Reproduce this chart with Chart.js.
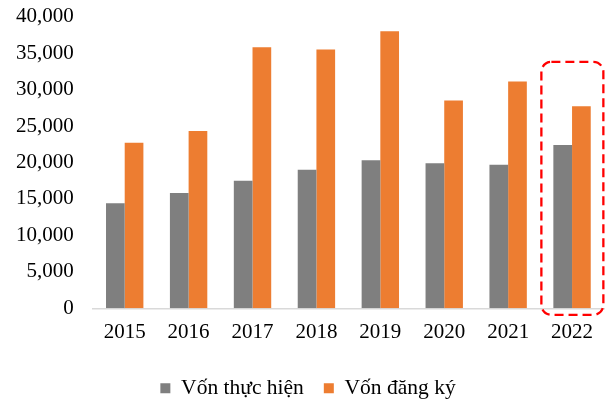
<!DOCTYPE html>
<html>
<head>
<meta charset="utf-8">
<script src="https://cdn.jsdelivr.net/npm/chart.js@4"></script>
<style>
  html, body { margin: 0; padding: 0; background: #fff; }
  #wrap { width: 606px; height: 401px; }
</style>
</head>
<body>
<div id="wrap"><canvas id="fdiChart"></canvas></div>
<script>
const years = ["2015", "2016", "2017", "2018", "2019", "2020", "2021", "2022"];
const vonThucHien = [14400, 15800, 17500, 19000, 20300, 19900, 19700, 22400];
const vonDangKy = [22700, 24300, 35800, 35500, 38000, 28500, 31100, 27700];
const yTicks = [0, 5000, 10000, 15000, 20000, 25000, 30000, 35000, 40000];

// dashed box round the last year
const highlightBox = {
  id: 'highlightBox',
  afterDatasetsDraw(chart) {
    const { ctx, scales: { x, y } } = chart;
    const catW = x.width / years.length;
    const cx = x.getPixelForValue(years.length - 1);
    const left = cx - catW * 0.48;
    const right = cx + catW * 0.49;
    const top = y.getPixelForValue(33800);
    const bottom = y.getPixelForValue(0) + 6.5;
    ctx.save();
    ctx.strokeStyle = '#ff0000';
    ctx.lineWidth = 2.3;
    ctx.setLineDash([9, 5]);
    ctx.beginPath();
    ctx.roundRect(left, top, right - left, bottom - top, 10);
    ctx.stroke();
    ctx.restore();
  }
};

Chart.defaults.font.family = '"Liberation Serif", "Times New Roman", serif';
Chart.defaults.font.size = 21;
Chart.defaults.color = '#000';

new Chart(document.getElementById("fdiChart"), {
  type: 'bar',
  data: {
    labels: years,
    datasets: [{
      label: "Vốn thực hiện",
      data: vonThucHien,
      backgroundColor: "#7f7f7f"
    }, {
      label: "Vốn đăng ký",
      data: vonDangKy,
      backgroundColor: "#ed7d31"
    }]
  },
  options: {
    responsive: true,
    maintainAspectRatio: false,
    animation: false,
    layout: { padding: { top: 0, right: 2, left: 12, bottom: -8 } },
    datasets: { bar: { barPercentage: 1, categoryPercentage: 0.585 } },
    plugins: {
      legend: {
        position: 'bottom',
        labels: { boxWidth: 10, boxHeight: 10, padding: 20, font: { size: 21.5 } }
      },
      tooltip: { enabled: false }
    },
    scales: {
      x: {
        grid: { display: false, drawTicks: false },
        border: { color: '#d9d9d9', width: 1.5 },
        ticks: { padding: 12 }
      },
      y: {
        min: 0,
        max: 40000,
        afterBuildTicks(axis) { axis.ticks = yTicks.map(v => ({ value: v })); },
        grid: { display: false, drawTicks: true, tickLength: 15 },
        border: { display: false },
        ticks: {
          padding: 4,
          callback: v => v.toLocaleString('en-US')
        }
      }
    }
  },
  plugins: [highlightBox]
});
</script>
</body>
</html>
